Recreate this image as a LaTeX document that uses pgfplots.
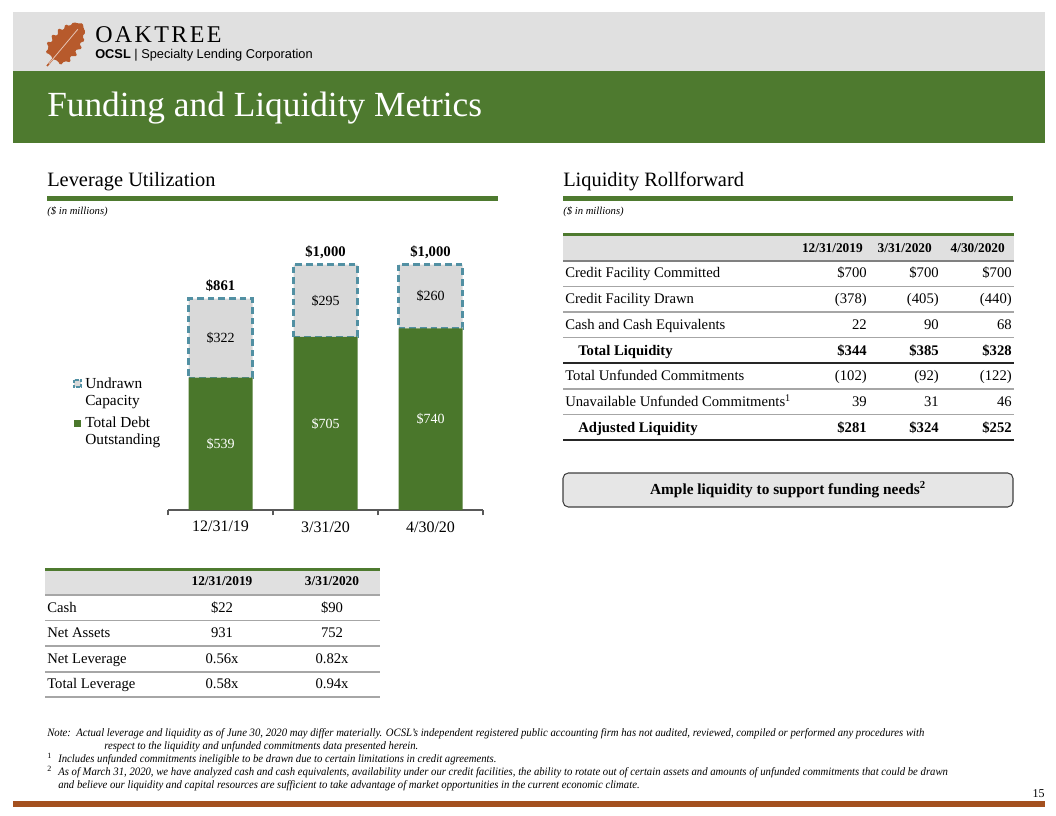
\documentclass[border=0pt]{standalone}
\usepackage{pgfplots}
\pgfplotsset{compat=1.18}
\usepackage{graphicx}
\usepackage{fontspec}
\setmainfont{Liberation Serif}
\newfontfamily\logosans{Liberation Sans}
\newfontfamily\logoserif[LetterSpace=10]{Liberation Serif}

\definecolor{ocgreen}{HTML}{4E7A2F}
\definecolor{bargreen}{HTML}{4A772B}
\definecolor{hdrgray}{HTML}{E0E0E0}
\definecolor{undrawn}{HTML}{D9D9D9}
\definecolor{dashblue}{HTML}{5290A3}
\definecolor{leaf}{HTML}{B75A2C}
\definecolor{rust}{HTML}{A4501F}
\definecolor{rulegray}{HTML}{A6A6A6}
\definecolor{axgray}{HTML}{595959}
\definecolor{boxgray}{HTML}{E6E6E6}

\newcommand{\fs}[2]{\fontsize{#1pt}{#2pt}\selectfont}
% one row of the rollforward table
\newcommand{\rrow}[5]{%
  \node[tl] at (565,#1) {#2};
  \node[tr] at (867,#1) {#3};
  \node[tr] at (939,#1) {#4};
  \node[tr] at (1012,#1) {#5};}
% one row of the leverage table
\newcommand{\lrow}[4]{%
  \node[tl] at (47,#1) {#2};
  \node[tc] at (222,#1) {#3};
  \node[tc] at (332,#1) {#4};}

\begin{document}
\begin{tikzpicture}[x=0.75pt, y=-0.75pt,
  tl/.style={inner sep=0pt, anchor=base west},
  tr/.style={inner sep=0pt, anchor=base east},
  tc/.style={inner sep=0pt, anchor=base}]
\path[use as bounding box] (0,0) rectangle (1056,816);

% header band
\fill[hdrgray] (13,12) rectangle (1045,71);
\fill[ocgreen] (13,71) rectangle (1045,143);
\begin{scope}[shift={(47,66)}, rotate=50]
  \draw[leaf, line width=1.2pt] (0,0) -- (12,0);
  \fill[leaf, rounded corners=1.2] (9,0) -- (11,5) -- (9,10) -- (15,10) -- (18,16) -- (22,11)
    -- (27,17) -- (30,11) -- (36,16) -- (38,10) -- (44,13) -- (45,8) -- (51,8) -- (52,4)
    -- (56,0) -- (52,-4) -- (51,-8) -- (45,-8) -- (44,-13) -- (38,-10) -- (36,-16) -- (30,-11)
    -- (27,-17) -- (22,-11) -- (18,-16) -- (15,-10) -- (9,-10) -- (11,-5) -- cycle;
  \draw[leaf!35!white, line width=0.6pt] (3,0) -- (48,0);
\end{scope}
\node[tl, font=\logoserif\fs{18}{20}] at (95,42.5) {OAKTREE};
\node[tl, font=\logosans\fs{9.6}{12}] at (95,59) {\textbf{OCSL} | Specialty Lending Corporation};
\node[tl, text=white, font=\fs{26.5}{30}] at (47,117) {Funding and Liquidity Metrics};

% section headings
\node[tl, font=\fs{15.3}{18}] at (47,187) {Leverage Utilization};
\node[tl, font=\fs{15.3}{18}] at (563,187) {Liquidity Rollforward};
\fill[ocgreen] (47,196) rectangle (498,201);
\fill[ocgreen] (563,196) rectangle (1013,201);
\node[tl, font=\itshape\fs{8}{10}] at (47,214.5) {(\$ in millions)};
\node[tl, font=\itshape\fs{8}{10}] at (563,214.5) {(\$ in millions)};

% leverage utilization chart
\coordinate (ax) at (168,510);
\begin{axis}[
  at={(ax)}, anchor=south west,
  scale only axis, width=236.25pt, height=202.5pt,
  xmin=-0.5, xmax=2.5, ymin=0, ymax=1100,
  ybar stacked, bar width=48pt, clip=false,
  axis y line=none, axis x line*=bottom,
  x axis line style={draw=axgray, line width=1.1pt},
  xtick={0,1,2}, xticklabels={12/31/19,3/31/20,4/30/20},
  major tick length=0pt, tick align=outside,
  extra x ticks={-0.5,0.5,1.5,2.5}, extra x tick labels={},
  extra x tick style={major tick length=4pt, tick style={draw=axgray, line width=0.9pt}},
  xticklabel style={font=\fs{12}{14}, yshift=-5pt},
]
\addplot[fill=bargreen, draw=none] coordinates {(0,539) (1,705) (2,740)};
\addplot[fill=undrawn, draw=dashblue, line width=1.8pt, dash pattern=on 5pt off 3pt]
  coordinates {(0,322) (1,295) (2,260)};
% label positions: middle of each segment and top of each stack
\coordinate (d0) at (axis cs:0,269.5);
\coordinate (d1) at (axis cs:1,352.5);
\coordinate (d2) at (axis cs:2,370);
\coordinate (u0) at (axis cs:0,700);
\coordinate (u1) at (axis cs:1,852.5);
\coordinate (u2) at (axis cs:2,870);
\coordinate (t0) at (axis cs:0,861);
\coordinate (t1) at (axis cs:1,1000);
\coordinate (t2) at (axis cs:2,1000);
\end{axis}
\begin{scope}[font=\fs{10.5}{12}]
  \node[text=white] at (d0) {\$539};
  \node[text=white] at (d1) {\$705};
  \node[text=white] at (d2) {\$740};
  \node at (u0) {\$322};
  \node at (u1) {\$295};
  \node at (u2) {\$260};
\end{scope}
\begin{scope}[font=\bfseries\fs{11}{13}]
  \node[tc, yshift=6pt] at (t0) {\$861};
  \node[tc, yshift=6pt] at (t1) {\$1,000};
  \node[tc, yshift=6pt] at (t2) {\$1,000};
\end{scope}

% chart legend
\filldraw[fill=undrawn, draw=dashblue, line width=1pt, dash pattern=on 2.5pt off 1pt] (74,380) rectangle (81,387);
\fill[bargreen] (74,420) rectangle (81,427);
\begin{scope}[font=\fs{11.5}{14}]
  \node[tl] at (85,388) {Undrawn};
  \node[tl] at (85,405) {Capacity};
  \node[tl] at (85,427) {Total Debt};
  \node[tl] at (85,444) {Outstanding};
\end{scope}

% liquidity rollforward table
\fill[ocgreen] (563,233.5) rectangle (1014,236.5);
\fill[hdrgray] (563,236.5) rectangle (1014,261);
\draw[gray, line width=1pt] (563,261) -- (1014,261);
\foreach \yy in {286.5,312,337.5,389,414.5}
  \draw[rulegray, line width=1.1pt] (563,\yy) -- (1014,\yy);
\draw[black!85, line width=1.4pt] (563,363) -- (1014,363);
\draw[black!85, line width=1.8pt] (563,440) -- (1014,440);
\begin{scope}[font=\bfseries\fs{10}{12}]
  \node[tr] at (863,253) {12/31/2019};
  \node[tr] at (932,253) {3/31/2020};
  \node[tr] at (1005,253) {4/30/2020};
\end{scope}
\begin{scope}[font=\fs{11}{13}]
  \rrow{278}{Credit Facility Committed}{\$700}{\$700}{\$700}
  \rrow{303.7}{Credit Facility Drawn}{(378)}{(405)}{(440)}
  \rrow{329.4}{Cash and Cash Equivalents}{22}{90}{68}
  \rrow{355}{\hspace*{9.75pt}\textbf{Total Liquidity}}{\textbf{\$344}}{\textbf{\$385}}{\textbf{\$328}}
  \rrow{380.7}{Total Unfunded Commitments}{(102)}{(92)}{(122)}
  \rrow{406.4}{Unavailable Unfunded Commitments\textsuperscript{1}}{39}{31}{46}
  \rrow{432}{\hspace*{9.75pt}\textbf{Adjusted Liquidity}}{\textbf{\$281}}{\textbf{\$324}}{\textbf{\$252}}
\end{scope}
\draw[fill=boxgray, draw=black!75, line width=0.8pt, rounded corners=4pt] (563,473) rectangle (1013,507);
\node[tc, font=\bfseries\fs{11.5}{13}] at (788,494) {Ample liquidity to support funding needs\textsuperscript{2}};

% leverage table
\fill[ocgreen] (45,567.5) rectangle (380,570.5);
\fill[hdrgray] (45,570.5) rectangle (380,594.5);
\foreach \yy in {595,620.5,646,672,697}
  \draw[rulegray, line width=1.1pt] (45,\yy) -- (380,\yy);
\begin{scope}[font=\bfseries\fs{10}{12}]
  \node[tc] at (222,585) {12/31/2019};
  \node[tc] at (332,585) {3/31/2020};
\end{scope}
\begin{scope}[font=\fs{11}{13}]
  \lrow{612}{Cash}{\$22}{\$90}
  \lrow{637.5}{Net Assets}{931}{752}
  \lrow{663}{Net Leverage}{0.56x}{0.82x}
  \lrow{688.5}{Total Leverage}{0.58x}{0.94x}
\end{scope}

% notes
\begin{scope}[font=\itshape\fs{8.5}{10}]
  \node[tl] at (47,736) {\scalebox{0.945}[1]{Note:}};
  \node[tl] at (76,736) {\scalebox{0.945}[1]{Actual leverage and liquidity as of June 30, 2020 may differ materially. OCSL’s independent registered public accounting firm has not audited, reviewed, compiled or performed any procedures with}};
  \node[tl] at (104,749) {\scalebox{0.945}[1]{respect to the liquidity and unfunded commitments data presented herein.}};
  \node[tl, font=\upshape\fs{6}{7}] at (47,758) {1};
  \node[tl] at (58,762) {\scalebox{0.945}[1]{Includes unfunded commitments ineligible to be drawn due to certain limitations in credit agreements.}};
  \node[tl, font=\upshape\fs{6}{7}] at (47,771) {2};
  \node[tl] at (58,775) {\scalebox{0.945}[1]{As of March 31, 2020, we have analyzed cash and cash equivalents, availability under our credit facilities, the ability to rotate out of certain assets and amounts of unfunded commitments that could be drawn}};
  \node[tl] at (58,788) {\scalebox{0.945}[1]{and believe our liquidity and capital resources are sufficient to take advantage of market opportunities in the current economic climate.}};
\end{scope}
\node[tr, font=\fs{9}{10}] at (1045,797) {15};
\fill[rust] (13,801) rectangle (1045,807);
\end{tikzpicture}
\end{document}
